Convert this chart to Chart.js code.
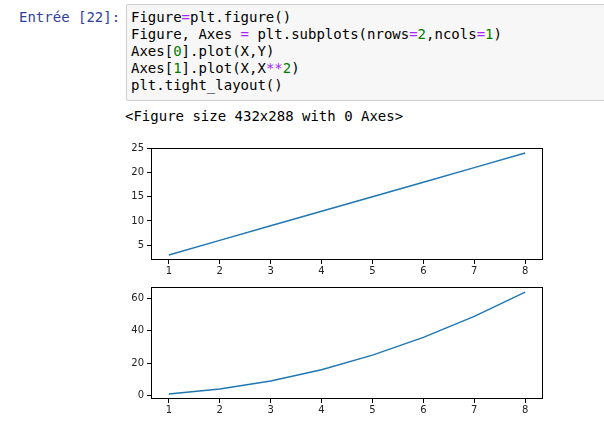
<!DOCTYPE html>
<html><head><meta charset="utf-8">
<script src="https://cdn.jsdelivr.net/npm/chart.js@4/dist/chart.umd.min.js"></script>
<style>
html,body{margin:0;padding:0;background:#fff;width:604px;height:425px;overflow:hidden;position:relative;}
.mono{font-family:"DejaVu Sans Mono",monospace;font-size:14px;line-height:17px;white-space:pre;}
#prompt{position:absolute;left:19px;top:9px;color:#303F9F;}
#code{position:absolute;left:126px;top:4px;width:500px;height:95px;background:#f7f7f7;border:1px solid #cfcfcf;border-radius:2px;}
#code pre{margin:0;position:absolute;left:4px;top:4px;color:#000;}
.o{color:#AA22FF;font-weight:normal}
.n{color:#008000}
#out{position:absolute;left:125px;top:108px;color:#000;}
canvas{position:absolute;}
</style></head>
<body>
<div id="prompt" class="mono">Entrée [22]:</div>
<div id="code"><pre class="mono">Figure<span class="o">=</span>plt.figure()
Figure, Axes <span class="o">=</span> plt.subplots(nrows<span class="o">=</span><span class="n">2</span>,ncols<span class="o">=</span><span class="n">1</span>)
Axes[<span class="n">0</span>].plot(X,Y)
Axes[<span class="n">1</span>].plot(X,X<span class="o">**</span><span class="n">2</span>)
plt.tight_layout()</pre></div>
<div id="out" class="mono">&lt;Figure size 432x288 with 0 Axes&gt;</div>
<div id="w1" style="position:absolute;left:120px;top:139px;width:432px;height:142px;"><canvas id="c1"></canvas></div>
<div id="w2" style="position:absolute;left:120px;top:278px;width:432px;height:142px;"><canvas id="c2"></canvas></div>
<script>
const xValues = [1,2,3,4,5,6,7,8];
const seriesY = [3,6,9,12,15,18,21,24];
const seriesX2 = [1,4,9,16,25,36,49,64];
const xTicks = [1,2,3,4,5,6,7,8];
const yTicksTop = [5,10,15,20,25];
const yTicksBottom = [0,20,40,60];

const frame = {
  id:'frame',
  afterDraw(chart){
    const a = chart.chartArea, ctx = chart.ctx;
    ctx.save();
    ctx.strokeStyle = '#000';
    ctx.lineWidth = 1;
    ctx.strokeRect(Math.round(a.left)+0.5, Math.round(a.top)+0.5, Math.round(a.right-a.left)-1, Math.round(a.bottom-a.top)-1);
    ctx.restore();
  }
};

function makeChart(id, ys, yMin, yMax, yTicks, padTop){
  const data = xValues.map((x,i)=>({x:x,y:ys[i]}));
  return new Chart(document.getElementById(id), {
    type:'line',
    data:{datasets:[{data:data,borderColor:'#1f77b4',borderWidth:1.5,pointRadius:0,fill:false,tension:0}]},
    plugins:[frame],
    options:{
      responsive:true, maintainAspectRatio:false, animation:false,
      layout:{padding:{top:padTop,right:9,left:0,bottom:0}},
      plugins:{legend:{display:false},tooltip:{enabled:false}},
      scales:{
        x:{type:'linear',min:0.65,max:8.35,
          afterBuildTicks(s){s.ticks = xTicks.map(v=>({value:v}));},
          afterFit(s){s.height = 21;},
          grid:{display:true,drawOnChartArea:false,drawTicks:true,tickLength:4,color:'#000',lineWidth:1},
          border:{display:false},
          ticks:{color:'#222',font:{family:'DejaVu Sans',size:10},padding:1,maxRotation:0,autoSkip:false}
        },
        y:{type:'linear',min:yMin,max:yMax,
          afterBuildTicks(s){s.ticks = yTicks.map(v=>({value:v}));},
          afterFit(s){s.width = 31;},
          grid:{display:true,drawOnChartArea:false,drawTicks:true,tickLength:4,color:'#000',lineWidth:1},
          border:{display:false},
          ticks:{color:'#222',font:{family:'DejaVu Sans',size:10},padding:3,autoSkip:false}
        }
      }
    }
  });
}
makeChart('c1', seriesY, 1.95, 25.05, yTicksTop, 9);
makeChart('c2', seriesX2, -2.15, 67.15, yTicksBottom, 9);
</script>
</body></html>
